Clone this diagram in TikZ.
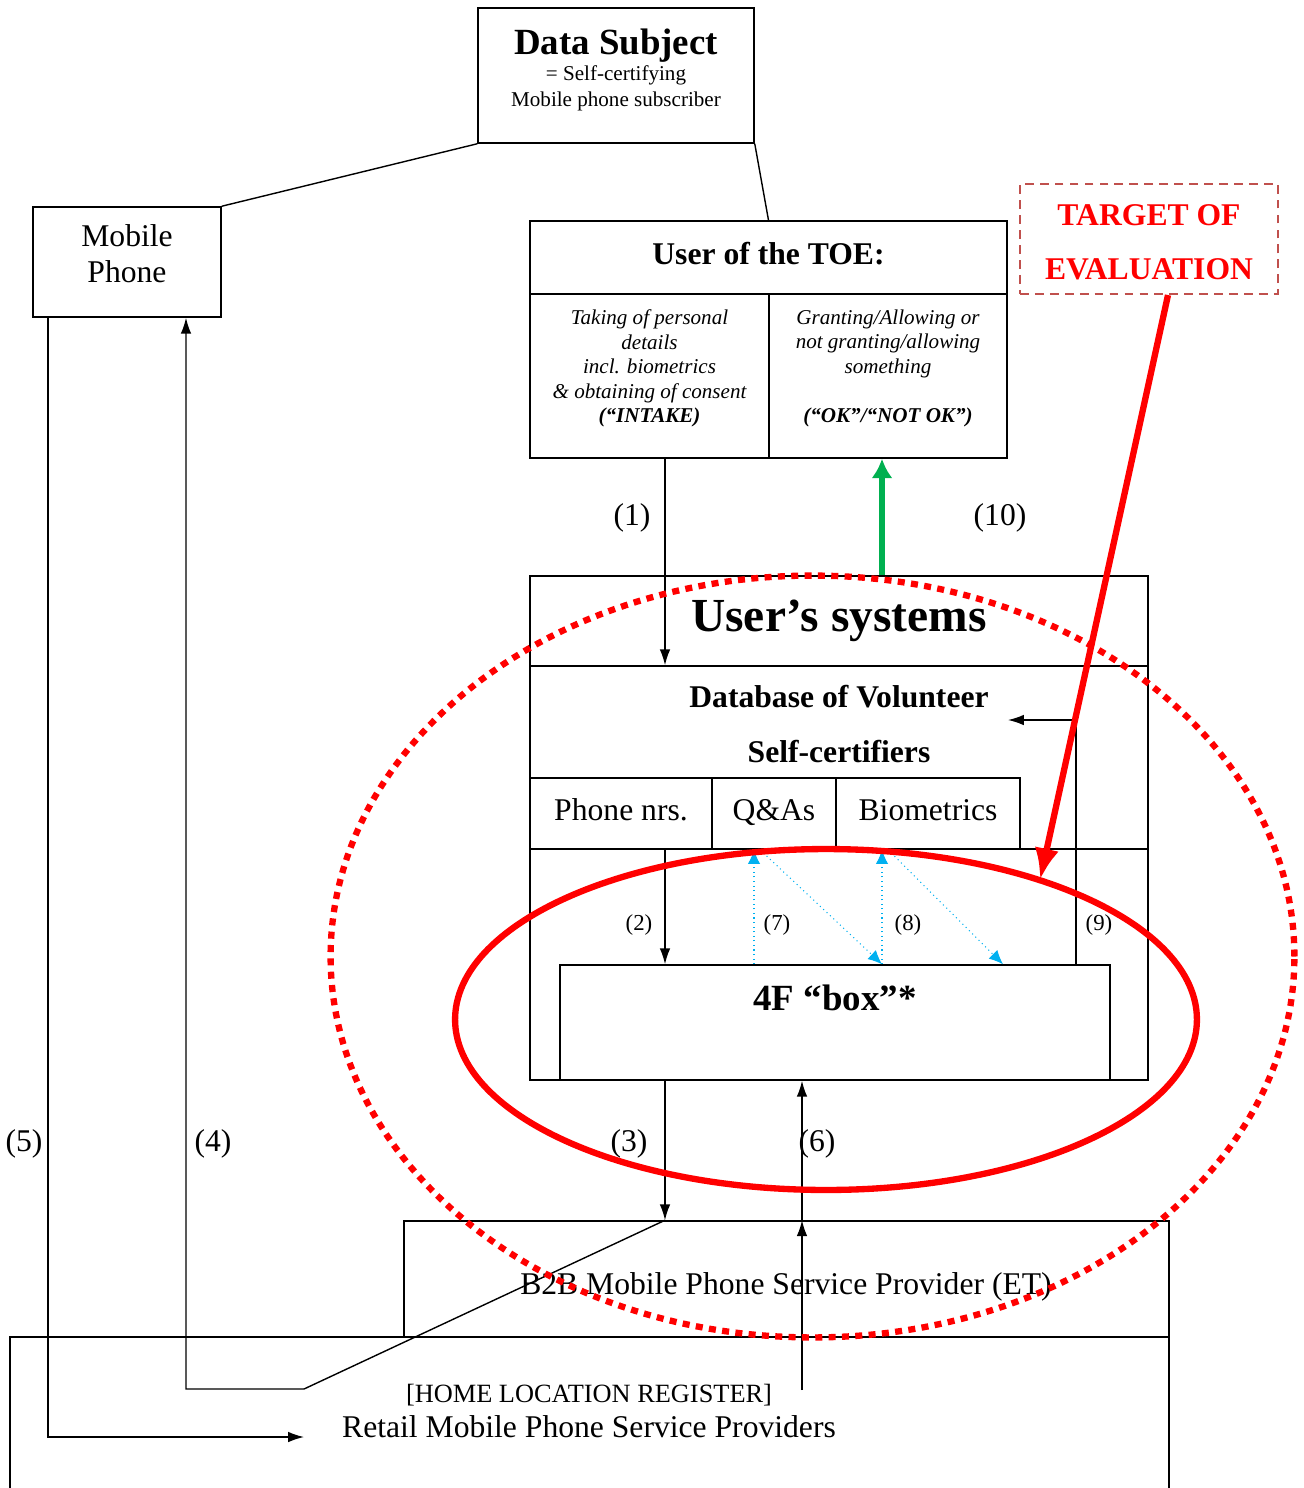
\documentclass[tikz,border=0pt]{standalone}
\usepackage{fontspec}
\setmainfont{Liberation Serif}
\usetikzlibrary{arrows.meta}

\definecolor{toered}{HTML}{FF0000}
\definecolor{toebox}{HTML}{C0504D}
\definecolor{okgreen}{HTML}{00B050}
\definecolor{linkblue}{HTML}{00B0F0}

\tikzset{
  box/.style={draw, line width=0.9pt, inner sep=0pt},
  txt/.style={inner sep=0pt, align=center},
  num/.style={inner sep=0pt, font=\fontsize{18}{20}\selectfont},
  smallnum/.style={inner sep=0pt, font=\fontsize{13}{15}\selectfont},
  lookup/.style={linkblue, line width=0.6pt, dotted, -{Latex[length=8pt,width=7pt]}},
}

\begin{document}
\begin{tikzpicture}[x=0.02cm,y=-0.02cm,>={Latex[length=9pt,width=6pt]},line width=0.8pt]
\useasboundingbox (0,0) rectangle (1304,1488);

\node[box, minimum width=5.52cm, minimum height=2.7cm] (ds) at (616,75.5) {};
\node[txt, font=\fontsize{12}{15}\selectfont] (dst) at (616,70) {{\fontsize{21}{24}\selectfont\bfseries Data Subject}\\= Self-certifying\\Mobile phone subscriber};

\node[box, minimum width=3.76cm, minimum height=2.2cm] (mp) at (127,262) {};
\node[txt, font=\fontsize{18}{20.5}\selectfont] (mpt) at (127,254) {Mobile\\Phone};

\node[box, minimum width=9.54cm, minimum height=1.46cm, text depth=5pt, font=\fontsize{18}{20}\selectfont\bfseries] (toeh) at (768.5,257.5) {User of the TOE:};
\node[box, minimum width=4.78cm, minimum height=3.28cm] (intake) at (649.5,376) {};
\node[box, minimum width=4.76cm, minimum height=3.28cm] (grant) at (888,376) {};
\node[txt, font=\fontsize{12}{14}\selectfont\itshape] (intaket) at (649.5,368.5) {Taking of personal\\details\\incl. biometrics\\\& obtaining of consent\\\textbf{(“INTAKE)}};
\node[txt, font=\fontsize{12}{14}\selectfont\itshape] (grantt) at (888,368.5) {Granting/Allowing or\\not granting/allowing\\something\\[14pt]\textbf{(“OK”/“NOT OK”)}};

\node[draw=toebox, line width=1.2pt, dash pattern=on 5pt off 3.5pt, minimum width=5.16cm, minimum height=2.2cm, inner sep=0pt] (tgt) at (1149,239) {};
\node[txt, text=toered, font=\fontsize{18}{31}\selectfont\bfseries] (tgtt) at (1149,242) {TARGET OF\\EVALUATION};

\node[box, minimum width=12.36cm, minimum height=10.08cm] (sys) at (839,828) {};
\node[box, minimum width=12.36cm, minimum height=1.8cm, font=\fontsize{27}{30}\selectfont\bfseries] (sysh) at (839,621) {User’s systems};
\node[box, minimum width=12.36cm, minimum height=3.66cm] (db) at (839,757.5) {};
\node[txt, font=\fontsize{18}{31}\selectfont\bfseries] (dbt) at (839,724) {Database of Volunteer\\Self-certifiers};
\node[box, minimum width=3.64cm, minimum height=1.42cm, text depth=4pt, font=\fontsize{18}{20}\selectfont] (phone) at (621,813.5) {Phone nrs.};
\node[box, minimum width=2.48cm, minimum height=1.42cm, text depth=4pt, font=\fontsize{18}{20}\selectfont] (qa) at (774,813.5) {Q\&As};
\node[box, minimum width=3.68cm, minimum height=1.42cm, text depth=4pt, font=\fontsize{18}{20}\selectfont] (bio) at (928,813.5) {Biometrics};

\node[box, minimum width=11cm, minimum height=2.3cm] (fbox) at (835,1022.5) {};
\node[txt, font=\fontsize{21}{24}\selectfont\bfseries] (fboxt) at (835,998) {4F “box”*};

\node[box, minimum width=15.3cm, minimum height=2.32cm] (btob) at (786.5,1279) {};
\node[txt, font=\fontsize{18}{20}\selectfont] (btobt) at (786,1287) {B2B Mobile Phone Service Provider (ET)};
\node[box, minimum width=23.18cm, minimum height=3.4cm] (retail) at (589.5,1422) {};
\node[txt, font=\fontsize{18}{20}\selectfont] (retailt) at (589,1411) {{\fontsize{15}{17}\selectfont [HOME LOCATION REGISTER]}\\Retail Mobile Phone Service Providers};

\coordinate (cA) at (665,0);
\coordinate (cB) at (186,0);
\coordinate (cC) at (48,0);
\coordinate (cD) at (802,0);
\coordinate (cE) at (1076,0);
\coordinate (cF) at (882,0);
\coordinate (cG) at (754,0);
\coordinate (cH) at (760,0);
\coordinate (cI) at (888,0);
\coordinate (cJ) at (1003,0);
\coordinate (cK) at (1168,0);
\coordinate (k4) at (304,1389);
\coordinate (e5) at (304,1437);
\coordinate (s6) at (802,1390);
\coordinate (k9) at (1076,720);
\coordinate (e9) at (1008,720);
\coordinate (tip) at (1040,880);

\draw (ds.south west) -- (mp.north east);
\draw (ds.south east) -- (toeh.north);

\draw[->] (intake.south -| cA) -- (db.north -| cA);
\draw[->] (db.south -| cA) -- (fbox.north -| cA);
\draw[->] (fbox.south -| cA) -- (btob.north -| cA);
\draw[->] (btob.north -| cA) -- (k4) -- (k4 -| cB) -- (mp.south -| cB);
\draw[->] (mp.south -| cC) -- (e5 -| cC) -- (e5);
\draw[->] (s6) -- (btob.north -| cD);
\draw[->] (btob.north -| cD) -- (fbox.south -| cD);
\draw[->] (fbox.north -| cE) -- (k9) -- (e9);
\draw[okgreen, line width=3.4pt, -{Latex[length=11pt,width=12pt]}] (sysh.north -| cF) -- (grant.south -| cF);

\draw[lookup] (fbox.north -| cG) -- (db.south -| cG);
\draw[lookup] (db.south -| cH) -- (fbox.north -| cF);
\draw[lookup] (fbox.north -| cF) -- (db.south -| cF);
\draw[lookup] (db.south -| cI) -- (fbox.north -| cJ);

\node[num] (n1) at (632,518) {(1)};
\node[num] (n10) at (1000,518) {(10)};
\node[smallnum] (n2) at (639,925) {(2)};
\node[smallnum] (n7) at (777,925) {(7)};
\node[smallnum] (n8) at (908,925) {(8)};
\node[smallnum] (n9) at (1099,925) {(9)};
\node[num] (n3) at (629,1144) {(3)};
\node[num] (n6) at (817,1144) {(6)};
\node[num] (n4) at (213,1144) {(4)};
\node[num] (n5) at (24,1144) {(5)};

\draw[toered, line width=3.6pt, dash pattern=on 4pt off 3.6pt] (812.5,956.5) ellipse [x radius=9.64cm, y radius=7.62cm];
\draw[toered, line width=3.6pt] (826,1019.5) ellipse [x radius=7.42cm, y radius=3.41cm];
\draw[toered, line width=3.6pt, -{Latex[length=18pt,width=14pt]}] (tgt.south -| cK) -- (tip);
\end{tikzpicture}
\end{document}
